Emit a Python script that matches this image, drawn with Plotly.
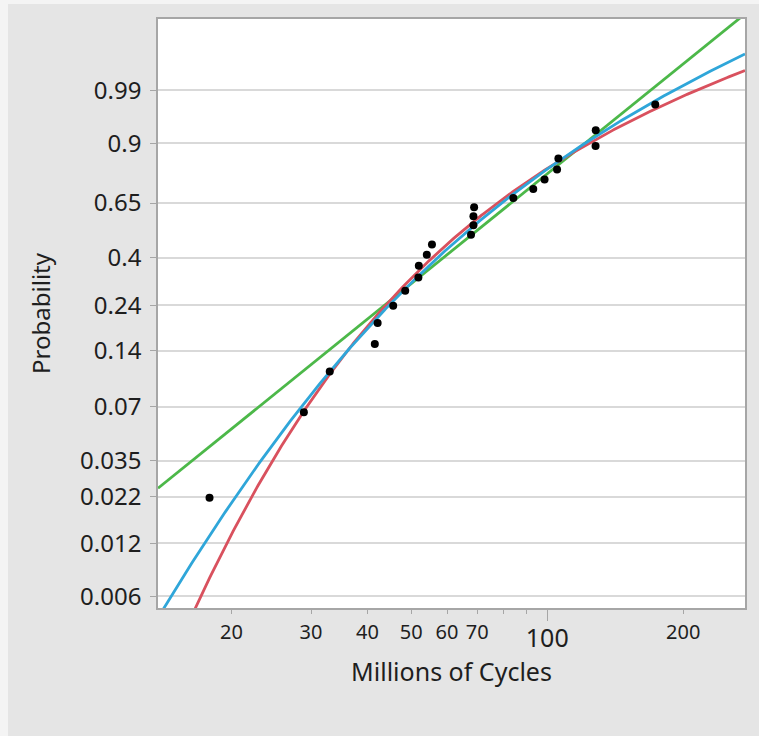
import math
import plotly.graph_objects as go

# Ball bearing fatigue data: failure times (millions of cycles) and plotting positions
cycles = [17.88, 28.92, 33.00, 41.52, 42.12, 45.60, 48.48, 51.84, 51.96, 54.12,
          55.56, 67.80, 68.64, 68.64, 68.88, 84.12, 93.12, 98.64, 105.12, 105.84,
          127.92, 128.04, 173.40]
prob = [0.0217, 0.0652, 0.1087, 0.1522, 0.1957, 0.2391, 0.2826, 0.3261, 0.3696, 0.4130,
        0.4565, 0.5000, 0.5435, 0.5870, 0.6304, 0.6739, 0.7174, 0.7609, 0.8043, 0.8478,
        0.8913, 0.9348, 0.9783]

# Probability axis ticks
prob_ticks = [0.006, 0.012, 0.022, 0.035, 0.07, 0.14, 0.24, 0.4, 0.65, 0.9, 0.99]
prob_tick_text = ["0.006", "0.012", "0.022", "0.035", "0.07", "0.14", "0.24", "0.4", "0.65", "0.9", "0.99"]

# Cycle axis ticks
minor_ticks = [20, 30, 40, 50, 60, 70, 80, 90, 200]
minor_tick_text = ["20", "30", "40", "50", "60", "70", "", "", "200"]
major_ticks = [100]

# Fitted distributions (log-location / scale parameters)
weibull_eta, weibull_beta = 81.2, 2.08
lognormal_mu, lognormal_sigma = 4.150, 0.522
gengamma_mu, gengamma_sigma, gengamma_lambda = 4.23, 0.510, 0.307

x_range = (13.75, 274.0)
n_curve = 400


def weibull_scale(h):
    """Probability-paper coordinate from cumulative hazard H = -ln(1-F)."""
    return math.log(h)


def cum_hazard(p, q):
    return -math.log1p(-p) if p < 0.5 else -math.log(q)


def inc_gamma(a, x):
    """Regularized lower/upper incomplete gamma (P, Q)."""
    if x <= 0:
        return 0.0, 1.0
    pref = math.exp(-x + a * math.log(x) - math.lgamma(a))
    if x < a + 1:
        term = 1.0 / a
        total = term
        n = 1
        while abs(term) > abs(total) * 1e-15 and n < 1000:
            term *= x / (a + n)
            total += term
            n += 1
        p = total * pref
        return p, 1.0 - p
    tiny = 1e-300
    b = x + 1.0 - a
    c = 1.0 / tiny
    d = 1.0 / b
    h = d
    for i in range(1, 1000):
        an = -i * (i - a)
        b += 2.0
        d = an * d + b
        if abs(d) < tiny:
            d = tiny
        c = b + an / c
        if abs(c) < tiny:
            c = tiny
        d = 1.0 / d
        delta = d * c
        h *= delta
        if abs(delta - 1.0) < 1e-15:
            break
    q = pref * h
    return 1.0 - q, q


lo, hi = math.log(x_range[0]), math.log(x_range[1])
grid = [math.exp(lo + (hi - lo) * i / (n_curve - 1)) for i in range(n_curve)]

y_weibull = [weibull_beta * (math.log(t) - math.log(weibull_eta)) for t in grid]

y_lognormal = []
for t in grid:
    z = (math.log(t) - lognormal_mu) / lognormal_sigma
    p = 0.5 * math.erfc(-z / math.sqrt(2))
    q = 0.5 * math.erfc(z / math.sqrt(2))
    y_lognormal.append(weibull_scale(cum_hazard(p, q)))

y_gengamma = []
k = 1.0 / gengamma_lambda ** 2
for t in grid:
    w = (math.log(t) - gengamma_mu) / gengamma_sigma
    p, q = inc_gamma(k, k * math.exp(gengamma_lambda * w))
    y_gengamma.append(weibull_scale(cum_hazard(p, q)))

y_points = [weibull_scale(-math.log1p(-p)) for p in prob]
y_tickvals = [weibull_scale(-math.log1p(-p)) for p in prob_ticks]

fig = go.Figure()
fig.add_trace(go.Scatter(x=grid, y=y_weibull, mode="lines",
                         line=dict(color="#4cb849", width=2.8), name="Weibull", hoverinfo="skip"))
fig.add_trace(go.Scatter(x=grid, y=y_lognormal, mode="lines",
                         line=dict(color="#d9515e", width=2.8), name="Lognormal", hoverinfo="skip"))
fig.add_trace(go.Scatter(x=grid, y=y_gengamma, mode="lines",
                         line=dict(color="#2fa6d9", width=2.8), name="Generalized Gamma", hoverinfo="skip"))
fig.add_trace(go.Scatter(x=cycles, y=y_points, mode="markers",
                         marker=dict(color="black", size=8), name="Data"))
# carrier for the secondary tick axis
fig.add_trace(go.Scatter(x=[100], y=[None], xaxis="x2", mode="markers",
                         showlegend=False, hoverinfo="skip"))

ylo = -5.265
yhi = 2.464
xlo = math.log10(x_range[0])
xhi = math.log10(x_range[1])

font_family = "Noto Sans, Open Sans, DejaVu Sans, sans-serif"
text_color = "#1e1e1e"
frame_color = "#a6a6a6"

fig.update_layout(
    width=759, height=736,
    margin=dict(l=158, r=14, t=19, b=128),
    paper_bgcolor="#e5e5e5",
    plot_bgcolor="white",
    showlegend=False,
    font=dict(family=font_family, color=text_color),
    xaxis=dict(
        type="log", range=[xlo, xhi],
        tickmode="array", tickvals=major_ticks, ticktext=["100"],
        tickfont=dict(size=25, color=text_color),
        ticks="outside", ticklen=11, tickcolor=frame_color, tickwidth=1,
        ticklabelstandoff=-4,
        showgrid=False, zeroline=False,
        showline=True, linecolor=frame_color, linewidth=1.5, mirror=True,
        title=dict(text="Millions of Cycles", font=dict(size=25, color=text_color), standoff=6),
    ),
    xaxis2=dict(
        type="log", range=[xlo, xhi], overlaying="x", anchor="y", side="bottom",
        tickmode="array", tickvals=minor_ticks, ticktext=minor_tick_text,
        tickfont=dict(size=20, color=text_color),
        ticks="outside", ticklen=5, tickcolor=frame_color, tickwidth=1,
        ticklabelstandoff=1,
        showgrid=False, zeroline=False, showline=False,
    ),
    yaxis=dict(
        range=[ylo, yhi],
        tickmode="array", tickvals=y_tickvals, ticktext=prob_tick_text,
        tickfont=dict(size=24, color=text_color),
        ticks="outside", ticklen=6, tickcolor=frame_color, tickwidth=1,
        ticklabelstandoff=4,
        showgrid=True, gridcolor="#d9d9d9", gridwidth=1.5,
        zeroline=False,
        showline=True, linecolor=frame_color, linewidth=1.5, mirror=True,
        title=dict(text="Probability", font=dict(size=24, color=text_color), standoff=23),
    ),
    shapes=[
        # light outer strips along the left and top edges of the page
        dict(type="rect", xref="paper", yref="paper", layer="below",
             x0=-158 / 587, x1=-150 / 587, y0=-128 / 589, y1=(589 + 19) / 589,
             fillcolor="#f4f4f4", line=dict(width=0)),
        dict(type="rect", xref="paper", yref="paper", layer="below",
             x0=-158 / 587, x1=(587 + 14) / 587, y0=(589 + 15) / 589, y1=(589 + 19) / 589,
             fillcolor="#f4f4f4", line=dict(width=0)),
    ],
)

fig.write_html("out.html")
